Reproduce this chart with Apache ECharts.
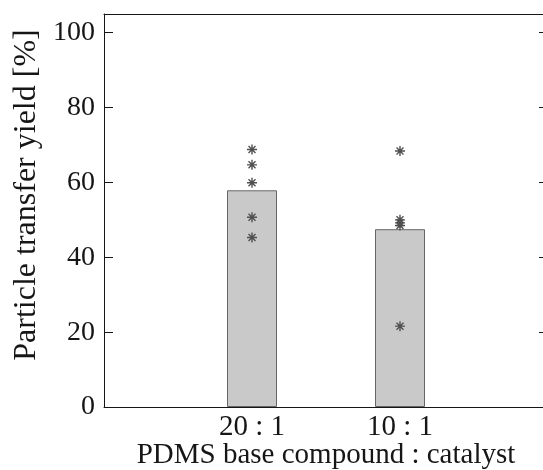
<!DOCTYPE html>
<html>
<head>
<meta charset="utf-8">
<script src="https://cdn.jsdelivr.net/npm/echarts@6/dist/echarts.min.js"></script>
<style>
html,body{margin:0;padding:0;background:#fff;}
#chart{width:543px;height:470px;}
</style>
</head>
<body>
<div id="chart"></div>
<script>
// Data
var categories = ['20 : 1', '10 : 1'];
var categoryPos = [1, 2];
var barMeans = [57.9, 47.5];
var points_20to1 = [68.8, 64.7, 59.9, 50.7, 45.3];
var points_10to1 = [68.4, 50.0, 49.2, 48.5, 21.6];
var yTicks = [0, 20, 40, 60, 80, 100];
var xAxisTitle = 'PDMS base compound : catalyst';
var yAxisTitle = 'Particle transfer yield [%]';

var FONT = '"Liberation Serif", "Times New Roman", serif';
var TXT = '#161616';

var barData = categoryPos.map(function (p, i) { return [p, barMeans[i]]; });
var scatterData = [];
[points_20to1, points_10to1].forEach(function (arr, i) {
  arr.forEach(function (v) { scatterData.push([categoryPos[i], v]); });
});

var starPath = 'path://M5,0L5,10M0,5L10,5M1.5,1.5L8.5,8.5M1.5,8.5L8.5,1.5';

var chart = echarts.init(document.getElementById('chart'), null, {renderer: 'canvas'});
chart.setOption({
  animation: false,
  backgroundColor: '#ffffff',
  grid: {left: 104, top: 14, width: 444, height: 393, containLabel: false, outerBoundsMode: 'none'},
  xAxis: [{
    type: 'value', min: 0, max: 3, position: 'bottom',
    axisLine: {show: true, onZero: false, lineStyle: {color: TXT, width: 1}},
    axisTick: {show: false},
    splitLine: {show: false},
    axisLabel: {
      customValues: categoryPos,
      formatter: function (v) { var i = categoryPos.indexOf(v); return i >= 0 ? categories[i] : ''; },
      color: TXT, fontFamily: FONT, fontSize: 29, margin: 6
    },
    name: xAxisTitle, nameLocation: 'middle', nameGap: 34, nameMoveOverlap: false,
    nameTextStyle: {color: TXT, fontFamily: FONT, fontSize: 29}
  }, {
    type: 'value', min: 0, max: 3, position: 'top',
    axisLine: {show: true, onZero: false, lineStyle: {color: TXT, width: 1}},
    axisTick: {show: false}, axisLabel: {show: false}, splitLine: {show: false}
  }],
  yAxis: [{
    type: 'value', min: 0, max: 105, position: 'left',
    axisLine: {show: true, onZero: false, lineStyle: {color: TXT, width: 1}},
    axisTick: {show: true, inside: true, length: 9, customValues: yTicks, lineStyle: {color: TXT}},
    splitLine: {show: false},
    axisLabel: {customValues: yTicks, color: TXT, fontFamily: FONT, fontSize: 28, margin: 9},
    name: yAxisTitle, nameLocation: 'middle', nameGap: 61, nameRotate: 90, nameMoveOverlap: false,
    nameTextStyle: {color: TXT, fontFamily: FONT, fontSize: 32, padding: [0, 0, 0, 31]}
  }, {
    type: 'value', min: 0, max: 105, position: 'right',
    axisLine: {show: true, onZero: false, lineStyle: {color: TXT, width: 1}},
    axisTick: {show: true, inside: true, length: 9, customValues: yTicks, lineStyle: {color: TXT}},
    axisLabel: {show: false}, splitLine: {show: false}
  }],
  series: [{
    type: 'bar', xAxisIndex: 0, yAxisIndex: 0,
    data: barData, barWidth: 50,
    itemStyle: {color: '#c9c9c9', borderColor: '#666666', borderWidth: 1}
  }, {
    type: 'scatter', xAxisIndex: 0, yAxisIndex: 0,
    data: scatterData, symbol: starPath, symbolSize: 10,
    itemStyle: {color: 'rgba(0,0,0,0)', borderColor: '#505050', borderWidth: 1.4, opacity: 1},
    z: 5
  }]
});
</script>
</body>
</html>
